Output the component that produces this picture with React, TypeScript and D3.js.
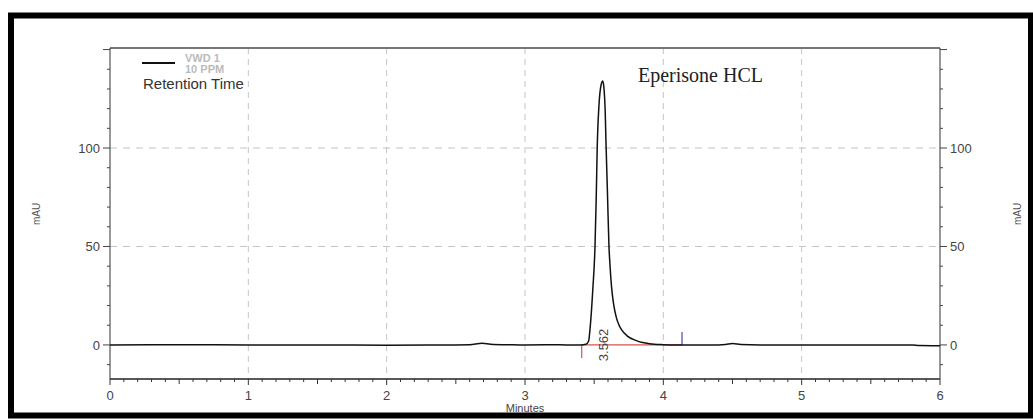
import { useEffect } from 'react'
import { scaleLinear, line, curveMonotoneX, range } from 'd3'

// chromatogram trace (minutes, mAU)
const times = [
  0, 0.5, 1, 1.5, 2, 2.5, 2.6, 2.69, 2.75, 2.9, 3.0, 3.2, 3.3, 3.4,
  3.44, 3.46, 3.47, 3.49, 3.506, 3.515, 3.522, 3.535, 3.55, 3.562, 3.57, 3.58, 3.585, 3.595,
  3.607, 3.615, 3.625, 3.64, 3.66, 3.68, 3.7, 3.74, 3.8, 3.85, 3.9, 4.0, 4.1,
  4.4, 4.45, 4.5, 4.56, 4.7, 5.0, 5.5, 5.8, 5.85, 6.0,
]
const mau = [
  0, 0.1, 0, 0, -0.1, 0, 0.1, 0.8, 0.4, 0.1, 0, 0.1, 0, 0,
  0.3, 2, 8, 28, 50, 75, 100, 122, 132, 134, 131, 118, 104, 80,
  50, 40, 30, 21, 14, 10, 7.5, 4.5, 2.3, 1.2, 0.6, 0.15, 0,
  0, 0.2, 0.7, 0.2, 0, 0, 0, 0, -0.3, -0.4,
]

const xTicks = [0, 1, 2, 3, 4, 5, 6]
const yTicks = [0, 50, 100]
const yGrid = [50, 100]
const xGrid = [1, 2, 3, 4, 5]

const peakTime = 3.562
const peakLabel = '3.562'
const integStart = 3.41
const integEnd = 4.135

let App = () => {
  useEffect(() => {
    document.body.style.margin = '0'
  }, [])

  let width = 1033
  let height = 420
  let left = 110
  let right = 940
  let top = 48
  let bottom = 379

  let xScale = scaleLinear().domain([0, 6]).range([left, right])
  let yScale = scaleLinear().domain([-17.3, 150.8]).range([bottom, top])

  let pts: [number, number][] = times.map((t, i) => [t, mau[i]])
  let path = line<[number, number]>()
    .x(d => xScale(d[0]))
    .y(d => yScale(d[1]))
    .curve(curveMonotoneX)(pts)

  let yMinor = range(-10, 151, 10)
  let xMinor = range(0, 60.5, 1).map(v => v / 10)

  let font = 'Arial, "Liberation Sans", sans-serif'

  return (
    <svg width={width} height={height} style={{ display: 'block', background: '#fff' }}>
      {/* outer frame */}
      <rect x={11} y={15.5} width={1020} height={400} fill='none' stroke='#000' strokeWidth={6} />

      {/* grid */}
      {xGrid.map(v => (
        <line key={'gx' + v} x1={xScale(v)} x2={xScale(v)} y1={top} y2={bottom}
          stroke='#c4c4c4' strokeDasharray='6,5' />
      ))}
      {yGrid.map(v => (
        <line key={'gy' + v} x1={left} x2={right} y1={yScale(v)} y2={yScale(v)}
          stroke='#c4c4c4' strokeDasharray='7,6' />
      ))}

      {/* plot box */}
      <line x1={left} x2={right} y1={top} y2={top} stroke='#777' strokeWidth={2} />
      <line x1={left} x2={right} y1={bottom} y2={bottom} stroke='#222' strokeWidth={1.5} />
      <line x1={left} x2={left} y1={top} y2={bottom} stroke='#333' />
      <line x1={right} x2={right} y1={top} y2={bottom} stroke='#333' />

      {/* y ticks left and right */}
      {yMinor.map(v => {
        let major = v % 50 === 0
        let len = major ? 7 : 3
        return (
          <g key={'yt' + v}>
            <line x1={left - len} x2={left} y1={yScale(v)} y2={yScale(v)} stroke='#444' />
            <line x1={right} x2={right + len} y1={yScale(v)} y2={yScale(v)} stroke='#444' />
          </g>
        )
      })}
      {yTicks.map(v => (
        <g key={'yl' + v} fontFamily={font} fontSize={13} fill='#444'>
          <text x={left - 10} y={yScale(v)} dy='.36em' textAnchor='end'>{v}</text>
          <text x={right + 10} y={yScale(v)} dy='.36em'>{v}</text>
        </g>
      ))}

      {/* x ticks */}
      {xMinor.map((v, i) => {
        let len = i % 10 === 0 ? 6 : i % 5 === 0 ? 5 : 3
        return <line key={'xt' + i} x1={xScale(v)} x2={xScale(v)} y1={bottom} y2={bottom + len} stroke='#333' />
      })}
      {xTicks.map(v => (
        <text key={'xl' + v} x={xScale(v)} y={bottom + 21} textAnchor='middle'
          fontFamily={font} fontSize={13} fill='#444'>{v}</text>
      ))}

      {/* axis titles */}
      <text x={525} y={412} textAnchor='middle' fontFamily={font} fontSize={11} fill='#444'>Minutes</text>
      <text transform={`translate(40,214) rotate(-90)`} textAnchor='middle' fontFamily={font} fontSize={10} fill='#555'>mAU</text>
      <text transform={`translate(1021,214) rotate(-90)`} textAnchor='middle' fontFamily={font} fontSize={10} fill='#555'>mAU</text>

      {/* integration baseline and markers */}
      <line x1={xScale(integStart)} x2={xScale(integEnd)} y1={yScale(0)} y2={yScale(0)} stroke='#d9534f' strokeWidth={1.2} />
      <line x1={xScale(integStart)} x2={xScale(integStart)} y1={yScale(0)} y2={yScale(0) + 13} stroke='#d9534f' strokeWidth={1.2} />
      <line x1={xScale(integEnd)} x2={xScale(integEnd)} y1={yScale(0)} y2={yScale(0) - 13} stroke='#4a4aa8' strokeWidth={1.2} />

      {/* trace */}
      <path d={path ?? ''} fill='none' stroke='#111' strokeWidth={1.5} />

      {/* peak label */}
      <text transform={`translate(${xScale(peakTime) + 5},${yScale(0)}) rotate(-90)`} textAnchor='middle'
        fontFamily={font} fontSize={13} fill='#444'>{peakLabel}</text>

      {/* legend */}
      <line x1={142} x2={175} y1={63} y2={63} stroke='#111' strokeWidth={2} />
      <text x={185} y={62} fontFamily={font} fontSize={11} fontWeight='bold' fill='#bbb'>VWD 1</text>
      <text x={185} y={73} fontFamily={font} fontSize={11} fontWeight='bold' fill='#bbb'>10 PPM</text>
      <text x={143} y={89} fontFamily={font} fontSize={15} fill='#333'>Retention Time</text>

      {/* title */}
      <text x={638} y={82} fontFamily='"Liberation Serif", "Times New Roman", serif' fontSize={20} fill='#222'>Eperisone HCL</text>
    </svg>
  )
}

export default App
